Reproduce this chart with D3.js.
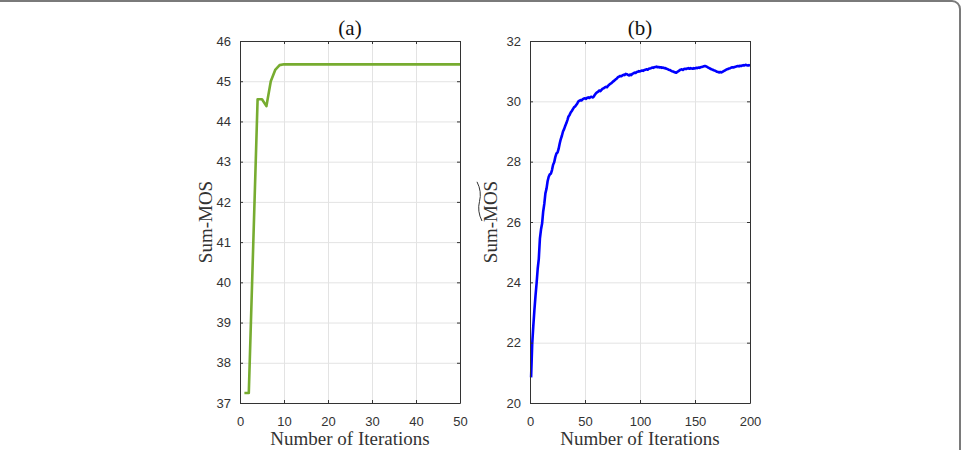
<!DOCTYPE html>
<html><head><meta charset="utf-8">
<script src="https://cdn.jsdelivr.net/npm/d3@7"></script>
<style>
html,body{margin:0;padding:0;background:#fff;}
svg{display:block;}
.tick text{font-family:"Liberation Sans",Arial,sans-serif;font-size:13px;fill:#333;}
</style></head>
<body>
<svg id="chart" width="962" height="450"></svg>
<script>
// Panel (a)
const iterA = d3.range(1, 51);
const sumMosA = [37.25,37.25,40.9,44.55,44.55,44.38,45.0,45.28,45.4,45.42,
  45.42,45.42,45.42,45.42,45.42,45.42,45.42,45.42,45.42,45.42,
  45.42,45.42,45.42,45.42,45.42,45.42,45.42,45.42,45.42,45.42,
  45.42,45.42,45.42,45.42,45.42,45.42,45.42,45.42,45.42,45.42,
  45.42,45.42,45.42,45.42,45.42,45.42,45.42,45.42,45.42,45.42];
const xTicksA = [0,10,20,30,40,50];
const yTicksA = [37,38,39,40,41,42,43,44,45,46];

// Panel (b)
const iterB = d3.range(1, 201);
const sumMosB = [20.85,21.95,22.55,23.08,23.55,23.97,24.45,24.78,25.45,25.75,
  25.95,26.35,26.6,26.95,27.1,27.35,27.5,27.58,27.6,27.72,
  27.9,27.98,28.15,28.27,28.3,28.42,28.6,28.75,28.86,29.0,
  29.08,29.18,29.27,29.38,29.5,29.55,29.63,29.68,29.74,29.8,
  29.83,29.88,29.93,30.0,30.02,30.04,30.03,30.07,30.09,30.1,
  30.08,30.12,30.13,30.11,30.14,30.15,30.13,30.16,30.22,30.27,
  30.3,30.32,30.36,30.34,30.38,30.42,30.43,30.46,30.48,30.47,
  30.52,30.55,30.58,30.6,30.64,30.67,30.7,30.73,30.76,30.8,
  30.82,30.84,30.83,30.86,30.88,30.87,30.91,30.9,30.88,30.86,
  30.89,30.87,30.91,30.93,30.95,30.94,30.97,30.98,31.0,30.99,
  31.01,31.02,31.01,31.04,31.05,31.06,31.05,31.08,31.09,31.1,
  31.12,31.11,31.13,31.14,31.15,31.13,31.14,31.12,31.13,31.11,
  31.12,31.1,31.1,31.08,31.07,31.05,31.04,31.02,31.0,30.99,
  30.97,30.96,30.95,30.98,31.0,31.03,31.05,31.06,31.04,31.07,
  31.08,31.07,31.09,31.1,31.08,31.1,31.09,31.08,31.1,31.09,
  31.11,31.1,31.12,31.11,31.13,31.14,31.15,31.16,31.17,31.16,
  31.14,31.12,31.1,31.08,31.06,31.05,31.03,31.02,31.0,30.98,
  30.97,30.96,30.97,30.96,30.98,31.0,31.02,31.04,31.06,31.07,
  31.09,31.1,31.12,31.13,31.12,31.14,31.15,31.16,31.17,31.16,
  31.18,31.17,31.19,31.2,31.19,31.21,31.2,31.19,31.2,31.18];
const xTicksB = [0,50,100,150,200];
const yTicksB = [20,22,24,26,28,30,32];

const svg = d3.select("#chart");

// outer frame (rounded border, partially visible)
svg.append("rect").attr("x", -20).attr("y", 1).attr("width", 980).attr("height", 480)
  .attr("rx", 8).attr("fill", "none").attr("stroke", "#7a7a7a").attr("stroke-width", 2);

const plotTop = 41, plotBottom = 403;
const axisColor = "#333";

function panel(o) {
  const x = d3.scaleLinear().domain(o.xDomain).range([o.left, o.right]);
  const y = d3.scaleLinear().domain(o.yDomain).range([plotBottom, plotTop]);
  const g = svg.append("g");
  const w = o.right - o.left, h = plotBottom - plotTop;

  // grid
  g.append("g").attr("transform", `translate(0,${plotBottom})`)
    .call(d3.axisBottom(x).tickValues(o.xTicks).tickSize(-h).tickFormat(""))
    .call(s => { s.select(".domain").remove(); s.selectAll("line").attr("stroke", "#e3e3e3"); });
  g.append("g").attr("transform", `translate(${o.left},0)`)
    .call(d3.axisLeft(y).tickValues(o.yTicks).tickSize(-w).tickFormat(""))
    .call(s => { s.select(".domain").remove(); s.selectAll("line").attr("stroke", "#e3e3e3"); });

  // line
  const line = d3.line().x((d, i) => x(o.xs[i])).y(d => y(d));
  g.append("path").datum(o.ys).attr("d", line).attr("fill", "none")
    .attr("stroke", o.color).attr("stroke-width", 2.6).attr("stroke-linejoin", "round");

  // axes (box with inward ticks)
  const styleAx = s => { s.select(".domain").attr("stroke", axisColor); s.selectAll("line").attr("stroke", axisColor); };
  g.append("g").attr("transform", `translate(0,${plotBottom})`)
    .call(d3.axisBottom(x).tickValues(o.xTicks).tickSizeInner(-3).tickSizeOuter(0).tickPadding(14))
    .call(styleAx);
  g.append("g").attr("transform", `translate(0,${plotTop})`)
    .call(d3.axisTop(x).tickValues(o.xTicks).tickSizeInner(-3).tickSizeOuter(0).tickFormat(""))
    .call(styleAx);
  g.append("g").attr("transform", `translate(${o.left},0)`)
    .call(d3.axisLeft(y).tickValues(o.yTicks).tickSizeInner(-3).tickSizeOuter(0).tickPadding(9))
    .call(styleAx);
  g.append("g").attr("transform", `translate(${o.right},0)`)
    .call(d3.axisRight(y).tickValues(o.yTicks).tickSizeInner(-3).tickSizeOuter(0).tickFormat(""))
    .call(styleAx);

  const cx = (o.left + o.right) / 2;
  g.append("text").attr("x", cx).attr("y", 35).attr("text-anchor", "middle")
    .attr("font-family", "Liberation Serif, Times New Roman, serif").attr("font-size", 21)
    .attr("fill", "#111").text(o.title);
  g.append("text").attr("x", cx).attr("y", 445).attr("text-anchor", "middle")
    .attr("font-family", "Liberation Serif, Times New Roman, serif").attr("font-size", 19)
    .attr("fill", "#333").text("Number of Iterations");

  const yl = g.append("g").attr("transform", `translate(${o.ylabelX},${(plotTop + plotBottom) / 2}) rotate(-90)`);
  const t = yl.append("text").attr("text-anchor", "middle")
    .attr("font-family", "Liberation Serif, Times New Roman, serif").attr("font-size", 19)
    .attr("fill", "#333");
  t.append("tspan").text("Sum-");
  const ms = t.append("tspan").text("MOS");
  if (o.tilde) {
    const bb = ms.node().getBBox();
    const x0 = bb.x + 1, x1 = bb.x + bb.width - 1, yy = bb.y + 1;
    const mx = (x0 + x1) / 2;
    yl.append("path")
      .attr("d", `M${x0},${yy + 1} Q${(x0 + mx) / 2},${yy - 4} ${mx},${yy - 1.5} T${x1},${yy - 4}`)
      .attr("fill", "none").attr("stroke", "#333").attr("stroke-width", 1);
  }
}

panel({left: 240, right: 460, xDomain: [0, 50], yDomain: [37, 46], xTicks: xTicksA, yTicks: yTicksA,
  xs: iterA, ys: sumMosA, color: "#77ac30", title: "(a)", ylabelX: 212, tilde: false});
panel({left: 530, right: 750, xDomain: [0, 200], yDomain: [20, 32], xTicks: xTicksB, yTicks: yTicksB,
  xs: iterB, ys: sumMosB, color: "#0000ff", title: "(b)", ylabelX: 497, tilde: true});
</script>
</body></html>
